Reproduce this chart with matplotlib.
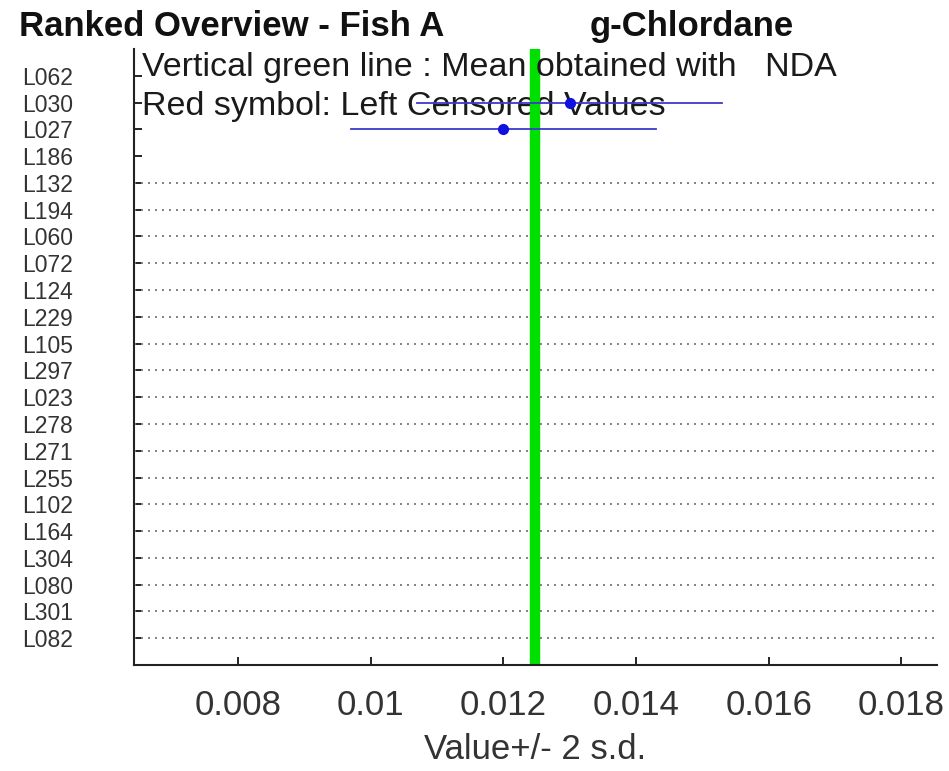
import matplotlib.pyplot as plt
import numpy as np

plt.rcParams['font.family'] = ['Liberation Sans', 'DejaVu Sans']

labs = ["L062", "L030", "L027", "L186", "L132", "L194", "L060", "L072",
        "L124", "L229", "L105", "L297", "L023", "L278", "L271", "L255",
        "L102", "L164", "L304", "L080", "L301", "L082"]
# value and 2 s.d. per lab (NaN = no value reported)
vals = [np.nan, 0.0130, 0.0120, np.nan] + [np.nan] * 18
sd2 = [np.nan, 0.0023, 0.0023, np.nan] + [np.nan] * 18
dotted = [False] * 4 + [True] * 18
mean_nda = 0.01248

fig = plt.figure(figsize=(9.49, 7.71), dpi=100)
ax = fig.add_axes([0.1412, 0.1375, 0.8462, 0.7989])

y = np.arange(1, len(labs) + 1)
xmin, xmax = 0.00643, 0.01854

for yi, d in zip(y, dotted):
    if d:
        ax.plot([xmin, xmax], [yi, yi], ls=(0, (1, 2.6)), color='#857a88', lw=1.4)

ax.axvline(mean_nda, color='#00e000', lw=7.5, zorder=2)

for yi, v, s in zip(y, vals, sd2):
    if np.isnan(v):
        continue
    ax.plot([v - s, v + s], [yi, yi], color='#3a3acc', lw=1.3, zorder=3)
    ax.plot(v, yi, 'o', color='#1010e0', ms=7, zorder=4)

ax.text(0.00655, 1.0, "Vertical green line : Mean obtained with   NDA",
        fontsize=24.5, va='baseline', ha='left', color='#1a1a1a')
ax.text(0.00655, 2.45, "Red symbol: Left Censored Values",
        fontsize=24.5, va='baseline', ha='left', color='#1a1a1a', zorder=1)

ax.set_xlim(xmin, xmax)
ax.set_ylim(len(labs) + 1, 0)
ax.set_yticks(y)
ax.set_yticklabels(labs, fontsize=16.5, color='#333333')
ax.set_xticks([0.008, 0.010, 0.012, 0.014, 0.016, 0.018])
ax.set_xticklabels(["0.008", "0.01", "0.012", "0.014", "0.016", "0.018"],
                   fontsize=25, color='#333333')
ax.tick_params(axis='y', direction='in', length=6, width=1.2, pad=80.6)
for t in ax.get_yticklabels():
    t.set_horizontalalignment('left')
ax.tick_params(axis='x', direction='in', length=6, width=1.2, pad=17)
ax.set_xlabel("Value+/- 2 s.d.", fontsize=25, color='#333333', labelpad=8)

for side in ['top', 'right']:
    ax.spines[side].set_visible(False)
for side in ['left', 'bottom']:
    ax.spines[side].set_linewidth(1.5)
    ax.spines[side].set_color('#222222')

fig.text(0.020, 0.965, "Ranked Overview - Fish A", fontsize=25,
         fontweight='bold', va='center', ha='left', color='#111111')
fig.text(0.621, 0.965, "g-Chlordane", fontsize=25,
         fontweight='bold', va='center', ha='left', color='#111111')

fig.savefig("out.png", dpi=100)
